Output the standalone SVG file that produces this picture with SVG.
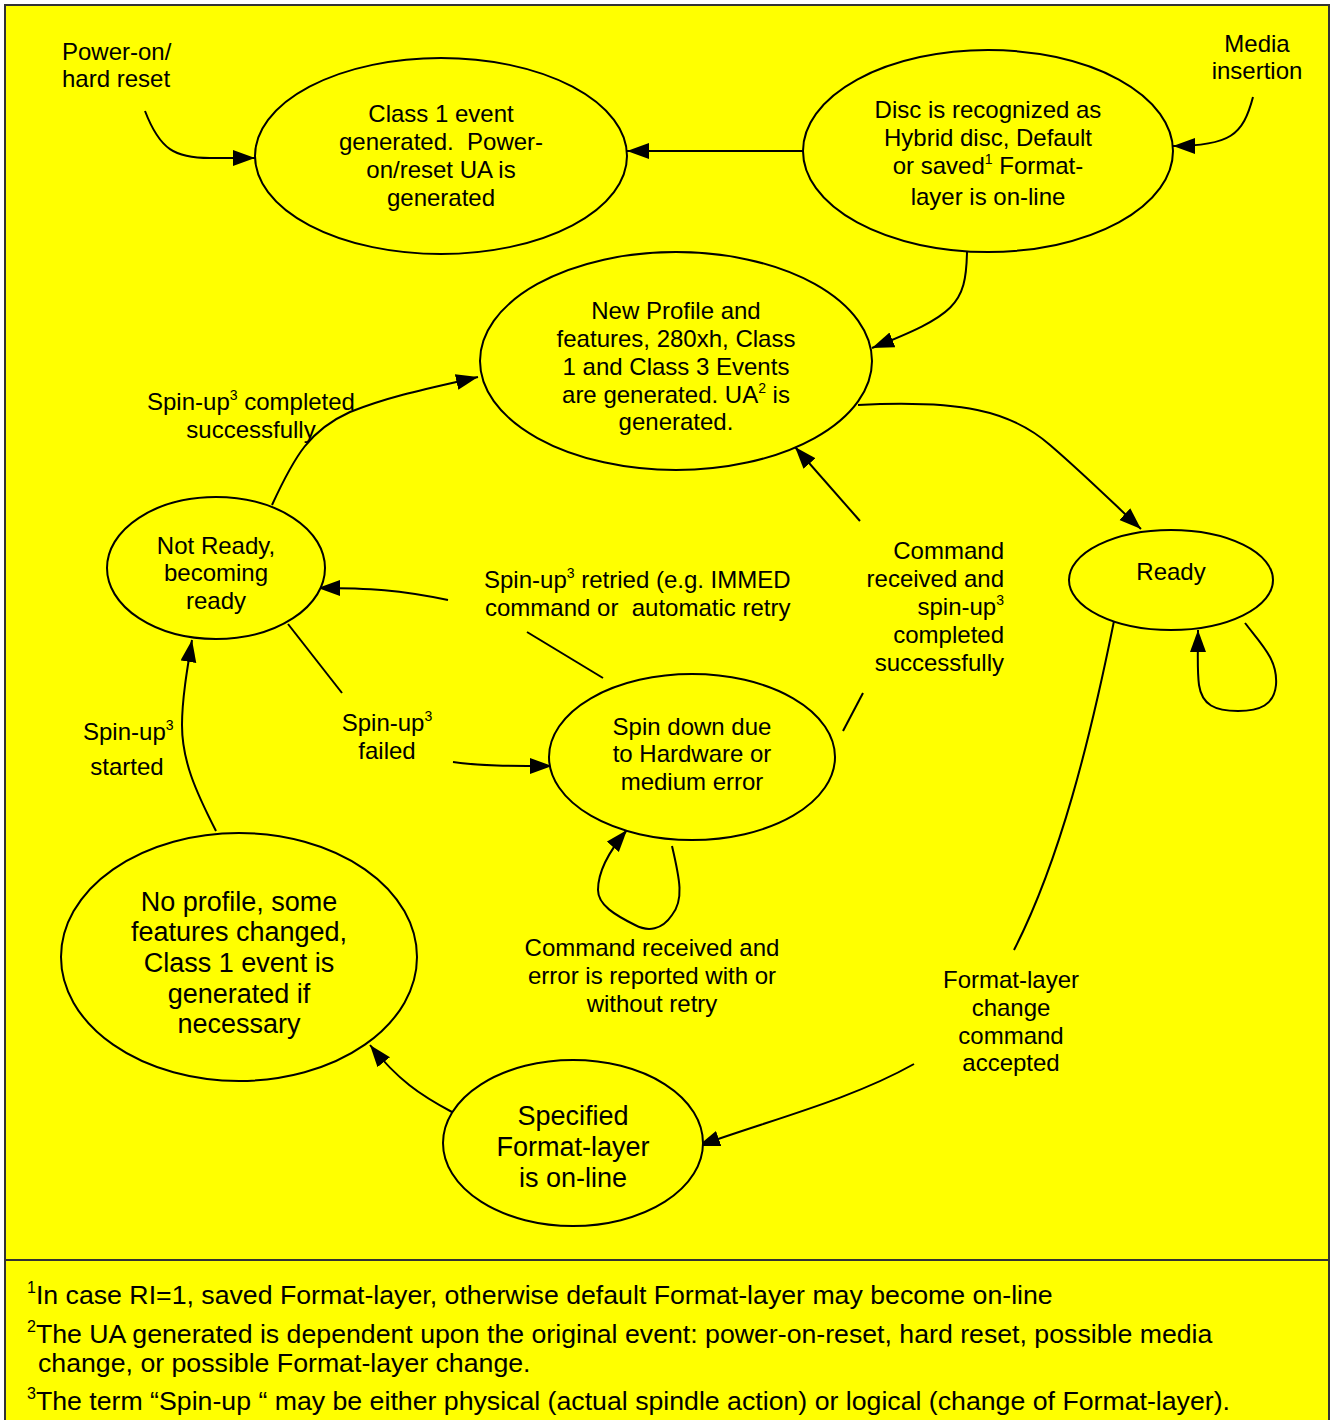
<svg xmlns="http://www.w3.org/2000/svg" width="1331" height="1420" viewBox="0 0 1331 1420">
<style>
.node ellipse{fill:#ffff00;stroke:#000;stroke-width:2}
text{font-family:"Liberation Sans",Arial,sans-serif;font-size:24px;fill:#000}
.c{text-anchor:middle}
.e{text-anchor:end}
.big{font-size:27px}
.fn{font-size:26.7px}
.edge path{fill:none;stroke:#000;stroke-width:2}
.sup{font-size:14px}
.fsup{font-size:16px}
</style>
<defs>
<marker id="ah" markerUnits="userSpaceOnUse" markerWidth="24" markerHeight="18" refX="22" refY="8" orient="auto">
<path d="M0,0 L22,8 L0,16 z" fill="#000"/>
</marker>
</defs>
<rect x="5" y="5" width="1324" height="1430" fill="#ffff00" stroke="#333" stroke-width="2"/>
<line x1="5" y1="1260" x2="1329" y2="1260" stroke="#333" stroke-width="2"/>

<g class="edge">
<path d="M145,111 C160,150 175,158 210,158 L255,158" marker-end="url(#ah)"/>
<path d="M803,151 L627,151" marker-end="url(#ah)"/>
<path d="M1253,97 C1243,135 1230,146 1173,146" marker-end="url(#ah)"/>
<path d="M967,252 C966,305 955,315 872,348" marker-end="url(#ah)"/>
<path d="M858,405 C960,400 1010,410 1050,445 C1085,475 1115,505 1141,529" marker-end="url(#ah)"/>
<path d="M272,505 C295,455 310,430 350,412 C390,396 430,388 478,377" marker-end="url(#ah)"/>
<path d="M448,600 C400,590 370,588 318,588" marker-end="url(#ah)"/>
<path d="M527,632 L603,678"/>
<path d="M860,521 L795,447" marker-end="url(#ah)"/>
<path d="M843,731 L863,693"/>
<path d="M288,624 L342,693"/>
<path d="M453,762 C480,766 510,766 552,766" marker-end="url(#ah)"/>
<path d="M216,831 C195,790 182,760 182,725 C182,700 187,670 192,640" marker-end="url(#ah)"/>
<path d="M672,846 C680,880 684,900 672,915 C662,930 648,932 635,925 C615,915 598,905 598,890 C598,870 610,850 627,830" marker-end="url(#ah)"/>
<path d="M1245,623 C1262,645 1278,660 1276,685 C1274,705 1260,711 1238,711 C1215,711 1202,705 1199,685 C1197,670 1198,655 1198,630" marker-end="url(#ah)"/>
<path d="M1114,621 C1090,740 1060,860 1014,950"/>
<path d="M914,1064 C850,1100 770,1120 698,1146" marker-end="url(#ah)"/>
<path d="M452,1112 C420,1095 398,1080 370,1045" marker-end="url(#ah)"/>
</g>

<g id="n-class1" class="node">
<ellipse cx="441" cy="156" rx="186" ry="98"/>
<text class="c" x="441" y="122">Class 1 event</text>
<text class="c" x="441" y="150" xml:space="preserve">generated.  Power-</text>
<text class="c" x="441" y="178">on/reset UA is</text>
<text class="c" x="441" y="206">generated</text>
</g>

<g id="n-disc" class="node">
<ellipse cx="988" cy="151" rx="185" ry="101"/>
<text class="c" x="988" y="118">Disc is recognized as</text>
<text class="c" x="988" y="146">Hybrid disc, Default</text>
<text class="c" x="988" y="174">or saved<tspan class="sup" dy="-10">1</tspan><tspan dy="10"> Format-</tspan></text>
<text class="c" x="988" y="205">layer is on-line</text>
</g>

<g id="n-newprofile" class="node">
<ellipse cx="676" cy="361" rx="196" ry="109"/>
<text class="c" x="676" y="319">New Profile and</text>
<text class="c" x="676" y="347">features, 280xh, Class</text>
<text class="c" x="676" y="375">1 and Class 3 Events</text>
<text class="c" x="676" y="403">are generated. UA<tspan class="sup" dy="-10">2</tspan><tspan dy="10"> is</tspan></text>
<text class="c" x="676" y="430">generated.</text>
</g>

<g id="n-notready" class="node">
<ellipse cx="216" cy="568" rx="109" ry="71"/>
<text class="c" x="216" y="554">Not Ready,</text>
<text class="c" x="216" y="581">becoming</text>
<text class="c" x="216" y="609">ready</text>
</g>

<g id="n-ready" class="node">
<ellipse cx="1171" cy="580" rx="102" ry="50"/>
<text class="c" x="1171" y="580">Ready</text>
</g>

<g id="n-spindown" class="node">
<ellipse cx="692" cy="757" rx="143" ry="83"/>
<text class="c" x="692" y="735">Spin down due</text>
<text class="c" x="692" y="762">to Hardware or</text>
<text class="c" x="692" y="790">medium error</text>
</g>

<g id="n-noprofile" class="node">
<ellipse cx="239" cy="957" rx="178" ry="124"/>
<text class="c big" x="239" y="911">No profile, some</text>
<text class="c big" x="239" y="941">features changed,</text>
<text class="c big" x="239" y="972">Class 1 event is</text>
<text class="c big" x="239" y="1003">generated if</text>
<text class="c big" x="239" y="1033">necessary</text>
</g>

<g id="n-specified" class="node">
<ellipse cx="573" cy="1143" rx="130" ry="83"/>
<text class="c big" x="573" y="1125">Specified</text>
<text class="c big" x="573" y="1156">Format-layer</text>
<text class="c big" x="573" y="1187">is on-line</text>
</g>

<g id="labels">
<text x="62" y="60">Power-on/</text>
<text x="62" y="87">hard reset</text>
<text class="c" x="1257" y="52">Media</text>
<text class="c" x="1257" y="79">insertion</text>
<text x="147" y="410">Spin-up<tspan class="sup" dy="-10">3</tspan><tspan dy="10"> completed</tspan></text>
<text class="c" x="251" y="438">successfully</text>
<text x="484" y="588">Spin-up<tspan class="sup" dy="-10">3</tspan><tspan dy="10"> retried (e.g. IMMED</tspan></text>
<text x="485" y="616" xml:space="preserve">command or  automatic retry</text>
<text class="e" x="1004" y="559">Command</text>
<text class="e" x="1004" y="587">received and</text>
<text class="e" x="1004" y="615">spin-up<tspan class="sup" dy="-10">3</tspan></text>
<text class="e" x="1004" y="643">completed</text>
<text class="e" x="1004" y="671">successfully</text>
<text class="c" x="387" y="731">Spin-up<tspan class="sup" dy="-10">3</tspan></text>
<text class="c" x="387" y="759">failed</text>
<text x="83" y="740">Spin-up<tspan class="sup" dy="-10">3</tspan></text>
<text class="c" x="127" y="775">started</text>
<text class="c" x="652" y="956">Command received and</text>
<text class="c" x="652" y="984">error is reported with or</text>
<text class="c" x="652" y="1012">without retry</text>
<text class="c" x="1011" y="988">Format-layer</text>
<text class="c" x="1011" y="1016">change</text>
<text class="c" x="1011" y="1044">command</text>
<text class="c" x="1011" y="1071">accepted</text>
</g>

<g id="footnotes">
<text class="fn" x="27" y="1304"><tspan class="fsup" dy="-11">1</tspan><tspan dy="11">In case RI=1, saved Format-layer, otherwise default Format-layer may become on-line</tspan></text>
<text class="fn" x="27" y="1343"><tspan class="fsup" dy="-11">2</tspan><tspan dy="11">The UA generated is dependent upon the original event: power-on-reset, hard reset, possible media</tspan></text>
<text class="fn" x="38" y="1372">change, or possible Format-layer change.</text>
<text class="fn" x="27" y="1410" xml:space="preserve"><tspan class="fsup" dy="-11">3</tspan><tspan dy="11">The term “Spin-up “ may be either physical (actual spindle action) or logical (change of Format-layer).</tspan></text>
</g>
</svg>
